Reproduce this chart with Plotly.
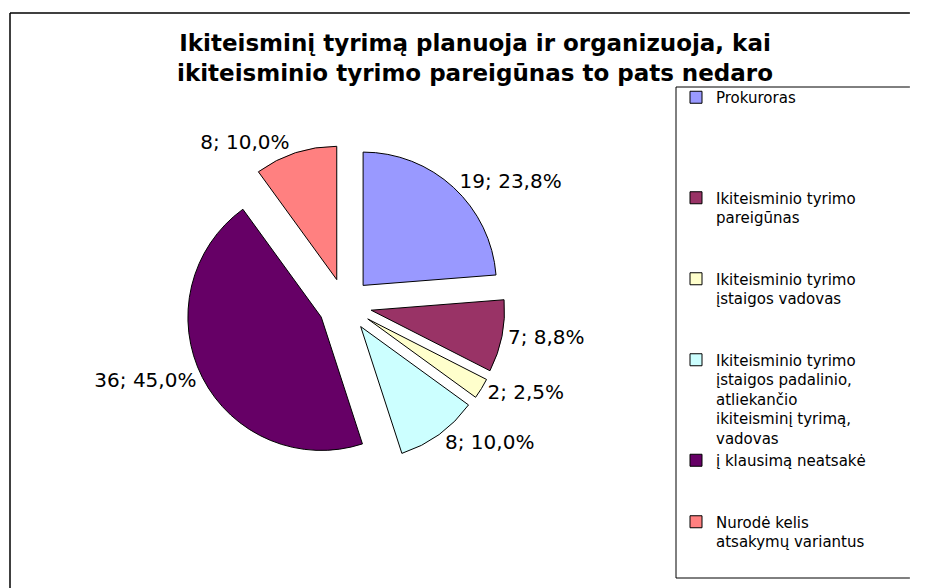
import plotly.graph_objects as go

# ---- data ----
categories = [
    "Prokuroras",
    "Ikiteisminio tyrimo pareigūnas",
    "Ikiteisminio tyrimo įstaigos vadovas",
    "Ikiteisminio tyrimo įstaigos padalinio, atliekančio ikiteisminį tyrimą, vadovas",
    "į klausimą neatsakė",
    "Nurodė kelis atsakymų variantus",
]
legend_lines = [
    ["Prokuroras"],
    ["Ikiteisminio tyrimo", "pareigūnas"],
    ["Ikiteisminio tyrimo", "įstaigos vadovas"],
    ["Ikiteisminio tyrimo", "įstaigos padalinio,", "atliekančio", "ikiteisminį tyrimą,", "vadovas"],
    ["į klausimą neatsakė"],
    ["Nurodė kelis", "atsakymų variantus"],
]
values = [19, 7, 2, 8, 36, 8]
colors = ["#9999FF", "#993366", "#FFFFCC", "#CCFFFF", "#660066", "#FF8080"]
title_text = ("<b>Ikiteisminį tyrimą planuoja ir organizuoja, kai<br>"
              "ikiteisminio tyrimo pareigūnas to pats nedaro</b>")

# blank lines used only to space the legend entries like the original
legend_pad = [4, 2, 2, 0, 2, 0]

W, H = 925, 588
labels = ["<br>".join(lines + ["\u00a0"] * pad) for lines, pad in zip(legend_lines, legend_pad)]

# pie box in pixels
cx, cy, side = 337, 297, 320

fig = go.Figure(go.Pie(
    labels=labels,
    values=values,
    customdata=categories,
    sort=False,
    direction="clockwise",
    rotation=0,
    pull=[0.2] * len(values),
    marker=dict(colors=colors, line=dict(color="black", width=1)),
    textposition="outside",
    texttemplate="%{value}; %{percent:.1%}",
    textfont=dict(family="DejaVu Sans", size=20, color="black"),
    hovertemplate="%{customdata}: %{value}<extra></extra>",
    domain=dict(x=[(cx - side / 2) / W, (cx + side / 2) / W],
                y=[1 - (cy + side / 2) / H, 1 - (cy - side / 2) / H]),
))

frame = dict(color="black", width=1.5)
lbox = dict(color="black", width=1)
xr = 0.975
fig.update_layout(
    width=W, height=H,
    margin=dict(l=0, r=0, t=0, b=0),
    paper_bgcolor="white",
    separators=", ",
    font=dict(family="DejaVu Sans", color="black"),
    title=dict(text=title_text, x=467 / W, xanchor="center", y=1 - 43 / H, yanchor="top",
               font=dict(family="DejaVu Sans", size=23, color="black")),
    legend=dict(x=668 / W, xanchor="left", y=1 - 73 / H, yanchor="top",
                valign="top", bgcolor="rgba(0,0,0,0)", borderwidth=0,
                font=dict(family="DejaVu Sans", size=15, color="black")),
    shapes=[
        dict(type="line", xref="paper", yref="paper", x0=2 / W, x1=2 / W,
             y0=-0.1, y1=1 - 5 / H, line=frame, layer="below"),
        dict(type="line", xref="paper", yref="paper", x0=2 / W, x1=xr,
             y0=1 - 5 / H, y1=1 - 5 / H, line=frame, layer="below"),
        dict(type="line", xref="paper", yref="paper", x0=668 / W, x1=668 / W,
             y0=1 - 570 / H, y1=1 - 79 / H, line=lbox, layer="below"),
        dict(type="line", xref="paper", yref="paper", x0=668 / W, x1=xr,
             y0=1 - 79 / H, y1=1 - 79 / H, line=lbox, layer="below"),
        dict(type="line", xref="paper", yref="paper", x0=668 / W, x1=xr,
             y0=1 - 570 / H, y1=1 - 570 / H, line=lbox, layer="below"),
    ],
)

fig.write_html("out.html")
